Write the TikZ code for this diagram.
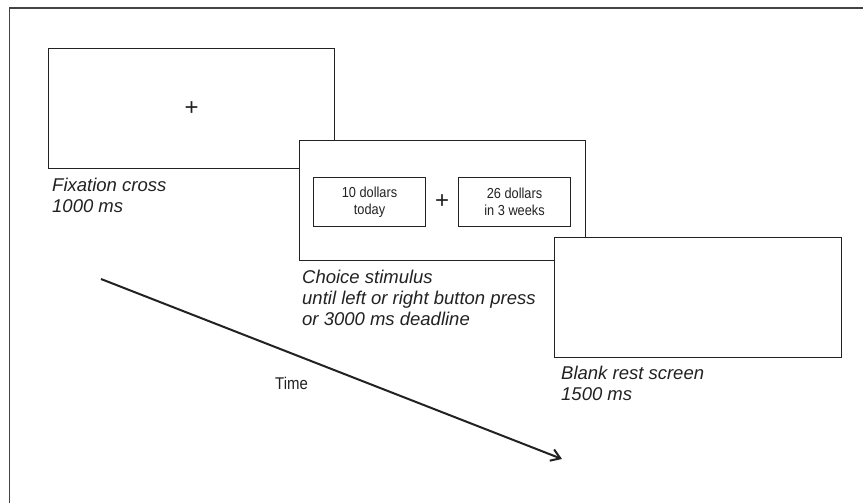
\documentclass[tikz,border=0pt]{standalone}
\usepackage{fontspec}
\setmainfont{Liberation Sans}
\newfontfamily\condfont[FakeStretch=0.88]{Liberation Sans}
\usetikzlibrary{arrows.meta,calc}
\definecolor{ink}{HTML}{222222}
\begin{document}
\begin{tikzpicture}[x=1pt,y=-1pt,
  screen/.style={draw=ink, line width=1.3pt, fill=white},
  option/.style={draw=ink, line width=1.1pt, fill=white, minimum width=112pt, minimum height=49pt,
    align=center, inner sep=0pt, font=\condfont\fontsize{14.5}{17.5}\selectfont, text=ink},
  caption/.style={anchor=base west, align=left, inner sep=0pt, text=ink,
    font=\itshape\fontsize{18.5}{21}\selectfont},
  plus/.style={inner sep=0pt, text=ink, font=\fontsize{24}{24}\selectfont}]
\useasboundingbox (0,0) rectangle (863,503);
\fill[white] (0,0) rectangle (863,503);
% outer frame (only top and left visible)
\draw[ink!85, line width=1.5pt] (9.5,503) -- (9.5,8) -- (863,8);
% screens
\node[screen, minimum width=286pt, minimum height=120pt, anchor=north west] (fix) at (48,48) {};
\node[plus] (fixplus) at (fix.center) {+};
\node[screen, minimum width=286pt, minimum height=120pt, anchor=north west] (choice) at (299,140) {};
\node[option, anchor=north west] (left) at (313,177) {10 dollars\\today};
\node[option, anchor=north west] (right) at (458,177) {26 dollars\\in 3 weeks};
\node[plus] (choiceplus) at ($(left.east)!0.5!(right.west)$) {+};
\node[screen, minimum width=287pt, minimum height=120pt, anchor=north west] (blank) at (554,237) {};
% captions (anchor at baseline of last line)
\node[caption] (fixcap) at (52,212) {Fixation cross\\1000 ms};
\node[caption] (choicecap) at (302,325) {Choice stimulus\\until left or right button press\\or 3000 ms deadline};
\node[caption] (blankcap) at (561,400) {Blank rest screen\\1500 ms};
% time arrow
\coordinate (tstart) at (101,279);
\coordinate (tend) at (562,459);
\draw[ink, line width=2pt, -{Straight Barb[length=9pt,width=12pt,line width=2pt]}] (tstart) -- (tend);
\node[anchor=base west, inner sep=0pt, text=ink, font=\condfont\fontsize{17}{17}\selectfont] (time) at (275,389) {Time};
\end{tikzpicture}
\end{document}
